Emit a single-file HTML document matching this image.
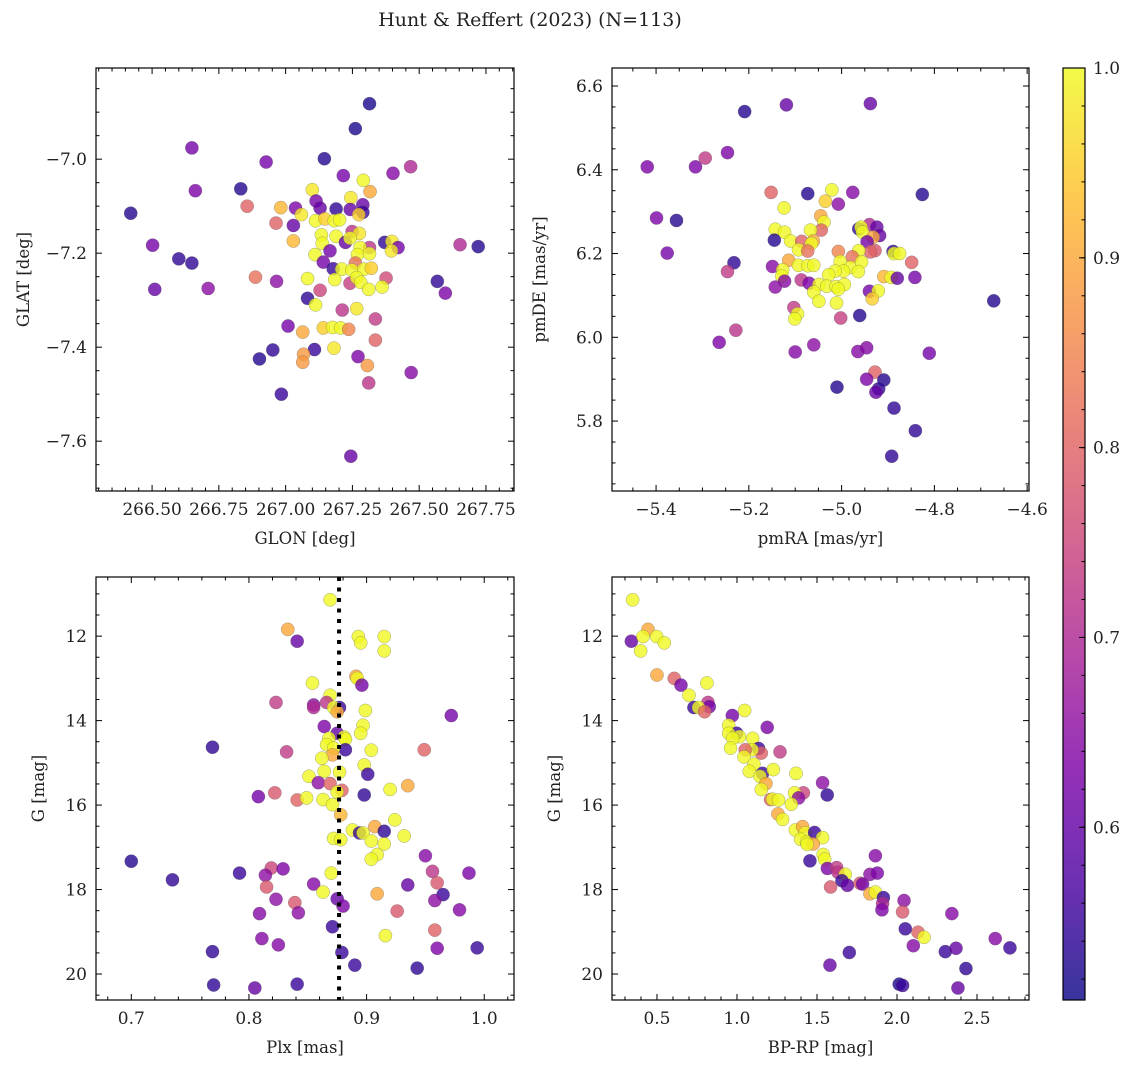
<!DOCTYPE html>
<html><head><meta charset="utf-8"><style>
body{margin:0;background:#fff;}
svg text{font-family:"DejaVu Serif","Liberation Serif",serif;fill:#222;}
</style></head><body>
<svg id="chart" width="1136" height="1068" viewBox="0 0 1136 1068" xmlns="http://www.w3.org/2000/svg">
<text x="530" y="26" font-size="19" text-anchor="middle">Hunt &amp; Reffert (2023) (N=113)</text>
</svg>
<script>
// ---- Panel 1: GLON vs GLAT ----
const tlX=[267.314,267.261,266.649,266.927,267.145,267.468,267.402,267.216,267.291,267.316,266.662,266.832,267.100,267.244,266.856,266.420,266.982,267.037,267.114,267.129,267.189,267.242,267.289,267.289,267.059,267.274,266.964,267.029,267.112,267.147,267.182,267.202,267.249,267.276,267.189,267.134,267.029,267.137,267.224,267.241,267.371,267.398,267.421,267.396,267.314,267.279,267.653,267.721,266.502,266.600,266.649,267.166,267.110,267.269,267.314,267.141,267.261,267.178,267.210,267.248,267.293,267.321,266.510,266.710,266.887,266.966,267.082,267.184,267.241,267.266,267.281,267.376,267.361,267.311,267.568,267.598,267.129,267.082,267.112,267.212,267.266,267.336,267.009,267.064,267.141,267.176,267.206,267.236,267.336,266.952,266.902,267.108,267.181,267.067,267.064,267.271,267.306,267.470,267.311,266.984,267.244];
const tlY=[-6.882,-6.935,-6.976,-7.006,-6.999,-7.016,-7.030,-7.035,-7.045,-7.069,-7.067,-7.063,-7.065,-7.082,-7.100,-7.115,-7.103,-7.104,-7.089,-7.104,-7.106,-7.107,-7.097,-7.113,-7.118,-7.118,-7.136,-7.141,-7.131,-7.127,-7.131,-7.129,-7.154,-7.158,-7.164,-7.161,-7.174,-7.179,-7.177,-7.168,-7.177,-7.175,-7.188,-7.195,-7.188,-7.188,-7.182,-7.186,-7.183,-7.212,-7.221,-7.195,-7.203,-7.203,-7.201,-7.219,-7.221,-7.233,-7.234,-7.236,-7.234,-7.232,-7.277,-7.275,-7.251,-7.260,-7.254,-7.256,-7.264,-7.252,-7.262,-7.253,-7.272,-7.277,-7.260,-7.285,-7.279,-7.296,-7.310,-7.321,-7.318,-7.340,-7.355,-7.368,-7.359,-7.358,-7.359,-7.362,-7.385,-7.406,-7.425,-7.405,-7.402,-7.415,-7.432,-7.420,-7.439,-7.454,-7.476,-7.500,-7.632];
const tlP=[.52,.52,.62,.62,.53,.7,.64,.62,1,.9,.63,.53,.98,.98,.8,.53,.92,.63,.62,.6,.54,.6,.6,.55,.98,.95,.8,.6,1,.95,1,1,.72,.98,1,1,.92,1,.6,1,.54,.98,.62,.98,.72,1,.7,.53,.62,.54,.54,.62,1,1,1,.62,.82,.55,1,1,1,.95,.6,.65,.82,.65,1,1,.74,1,1,.76,1,1,.54,.63,.75,.54,1,.72,.98,.73,.62,.9,.95,1,1,.85,.8,.54,.53,.55,.98,.88,.88,.63,.88,.64,.72,.55,.6];
// ---- Panel 2: pmRA vs pmDE ----
const trX=[-5.209,-5.119,-4.938,-5.419,-5.315,-5.294,-5.246,-5.152,-5.073,-5.021,-4.976,-4.826,-5.035,-5.007,-5.124,-5.399,-5.356,-5.045,-5.038,-5.044,-5.067,-5.143,-5.123,-5.145,-5.110,-5.086,-5.061,-5.065,-5.093,-5.073,-4.963,-4.940,-4.958,-4.955,-4.924,-4.918,-4.932,-4.945,-4.928,-4.938,-4.963,-5.007,-4.977,-5.376,-5.232,-5.246,-4.889,-4.887,-4.875,-4.849,-5.114,-5.093,-5.073,-5.060,-5.003,-4.981,-4.957,-4.964,-4.996,-5.014,-5.149,-5.127,-5.129,-5.123,-5.143,-5.087,-5.070,-5.028,-5.049,-5.032,-5.012,-4.994,-5.060,-5.007,-4.909,-4.893,-4.880,-4.842,-4.940,-4.921,-4.934,-5.049,-5.011,-4.672,-5.103,-5.095,-5.101,-5.002,-4.961,-5.228,-5.264,-5.100,-5.060,-4.965,-4.946,-4.811,-4.928,-4.946,-4.909,-4.920,-4.926,-5.010,-4.887,-4.841,-4.892];
const trY=[6.539,6.555,6.558,6.407,6.407,6.428,6.441,6.346,6.343,6.352,6.346,6.341,6.325,6.318,6.309,6.285,6.279,6.290,6.275,6.256,6.256,6.258,6.251,6.232,6.230,6.229,6.230,6.224,6.209,6.206,6.259,6.269,6.263,6.251,6.263,6.243,6.239,6.228,6.207,6.204,6.207,6.205,6.192,6.201,6.178,6.157,6.205,6.200,6.200,6.179,6.184,6.172,6.171,6.172,6.181,6.167,6.180,6.157,6.158,6.158,6.169,6.161,6.146,6.134,6.120,6.137,6.129,6.149,6.126,6.122,6.121,6.126,6.108,6.115,6.145,6.143,6.141,6.143,6.110,6.111,6.092,6.086,6.082,6.087,6.071,6.056,6.044,6.046,6.052,6.017,5.988,5.965,5.982,5.966,5.975,5.962,5.917,5.900,5.898,5.877,5.869,5.881,5.831,5.777,5.716];
const trP=[.53,.6,.6,.63,.63,.73,.63,.8,.53,1,.64,.53,.95,.65,1,.63,.53,.9,1,.8,1,1,1,.53,1,.8,.9,1,1,.82,.54,.7,1,1,.6,.6,.9,.62,.78,.8,1,.85,.82,.62,.54,.73,.54,1,1,.8,.9,1,1,1,1,1,1,1,1,1,.64,1,1,.64,.65,.72,.63,1,1,1,1,1,1,1,.92,1,.6,.62,.62,1,.95,1,1,.53,.73,1,1,.74,.53,.72,.63,.64,.65,.64,.64,.62,.8,.63,.53,.54,.6,.53,.54,.54,.54];
// ---- Panel 3: Plx vs G ----
const blX=[0.869,0.833,0.841,0.893,0.895,0.915,0.915,0.891,0.892,0.896,0.854,0.869,0.823,0.855,0.855,0.866,0.877,0.872,0.875,0.899,0.972,0.864,0.875,0.897,0.895,0.868,0.881,0.882,0.882,0.866,0.872,0.871,0.862,0.904,0.769,0.832,0.949,0.898,0.901,0.864,0.877,0.851,0.859,0.869,0.879,0.875,0.920,0.935,0.898,0.822,0.808,0.841,0.849,0.863,0.871,0.878,0.924,0.888,0.894,0.897,0.907,0.915,0.932,0.872,0.878,0.904,0.915,0.909,0.904,0.950,0.700,0.735,0.792,0.819,0.814,0.829,0.956,0.987,0.870,0.960,0.815,0.855,0.863,0.935,0.909,0.965,0.823,0.839,0.875,0.880,0.958,0.809,0.842,0.926,0.979,0.871,0.958,0.916,0.811,0.825,0.769,0.879,0.960,0.994,0.890,0.943,0.770,0.805,0.841];
const blY=[11.14,11.84,12.12,12.01,12.16,12.01,12.35,12.95,13.00,13.16,13.11,13.40,13.57,13.63,13.69,13.57,13.69,13.69,13.79,13.76,13.88,14.14,14.30,14.11,14.30,14.42,14.39,14.44,14.69,14.57,14.65,14.81,14.89,14.70,14.63,14.74,14.69,15.05,15.27,15.20,15.22,15.32,15.47,15.49,15.65,15.69,15.63,15.54,15.76,15.71,15.80,15.88,15.83,15.87,15.99,16.23,16.35,16.59,16.66,16.66,16.51,16.62,16.73,16.79,16.82,16.85,16.92,17.17,17.28,17.20,17.33,17.77,17.61,17.49,17.66,17.51,17.57,17.61,17.61,17.84,17.94,17.87,18.06,17.89,18.10,18.12,18.23,18.31,18.22,18.39,18.26,18.57,18.55,18.51,18.48,18.88,18.96,19.09,19.16,19.31,19.47,19.49,19.39,19.38,19.79,19.86,20.26,20.33,20.24];
const blP=[1,.9,.6,1,1,1,1,.9,1,.62,1,1,.73,.65,.7,.72,.55,1,.9,1,.62,.63,.6,1,1,1,1,1,.55,1,1,.9,1,1,.54,.73,.8,1,.55,1,1,1,.65,.8,.8,1,1,.9,.54,.78,.62,.8,1,1,1,.92,1,1,.55,1,.9,.54,1,1,1,1,1,1,1,.64,.53,.54,.55,.75,.65,.63,.72,.63,1,.78,.78,.64,1,.6,.9,.55,.65,.78,.6,.63,.65,.64,.65,.78,.64,.55,.8,1,.64,.64,.54,.55,.63,.55,.55,.54,.54,.6,.55];
const plxRef=[0.8766];
// ---- Panel 4: BP-RP vs G ----
const brX=[0.348,0.444,0.340,0.413,0.498,0.546,0.398,0.500,0.608,0.650,0.812,0.700,0.819,0.827,0.731,0.760,0.798,1.048,0.971,1.189,0.948,0.998,0.948,1.015,0.973,1.098,1.135,1.152,1.269,0.960,1.094,1.052,1.044,1.106,1.077,1.160,1.144,1.227,1.369,1.535,1.564,1.181,1.152,1.415,1.360,1.385,1.210,1.223,1.260,1.340,1.256,1.285,1.365,1.410,1.427,1.485,1.535,1.398,1.435,1.477,1.439,1.539,1.548,1.456,1.865,1.565,1.623,1.631,1.677,1.656,1.690,1.585,1.769,1.785,1.831,1.877,1.831,1.865,1.915,1.910,1.906,2.044,2.035,2.343,2.052,2.131,2.169,2.102,1.702,1.581,2.302,2.369,2.614,2.706,2.431,2.014,2.035,2.381];
const brY=[11.14,11.84,12.12,12.01,12.01,12.16,12.35,12.92,13.00,13.16,13.11,13.40,13.57,13.67,13.69,13.69,13.79,13.76,13.88,14.16,14.11,14.30,14.30,14.38,14.42,14.42,14.66,14.77,14.74,14.65,14.69,14.69,14.86,15.03,15.20,15.25,15.32,15.16,15.25,15.47,15.76,15.49,15.63,15.71,15.71,15.83,15.87,15.86,15.88,15.98,16.21,16.34,16.59,16.51,16.66,16.65,16.77,16.81,16.88,16.92,16.93,17.17,17.28,17.32,17.20,17.50,17.48,17.59,17.64,17.79,17.90,17.94,17.85,17.87,17.64,17.61,18.10,18.06,18.19,18.33,18.48,18.26,18.53,18.57,18.93,19.01,19.13,19.33,19.49,19.79,19.47,19.39,19.16,19.38,19.87,20.24,20.27,20.33];
const brP=[1,.9,.6,1,1,1,1,.9,.8,.62,1,1,.72,.62,.55,1,.8,1,.62,.63,1,.55,1,1,1,1,.55,.8,.73,1,1,.8,1,1,1,.55,1,1,1,.65,.54,.9,1,.75,1,.65,.8,1,1,1,.9,1,1,.9,1,.55,1,1,1,.9,1,1,1,.55,.64,.63,.73,.72,1,.55,.6,.78,.78,.62,.65,.63,.9,1,.55,.7,.63,.65,.78,.64,.55,.8,1,.64,.55,.6,.55,.6,.64,.55,.54,.52,.55,.6];
// ---- Colorbar ----
const cbRange=[0.509,1.0];
const cbTicks=[0.6,0.7,0.8,0.9,1.0];

const svg=document.getElementById('chart');
const NS='http://www.w3.org/2000/svg';
function mk(tag,attrs,parent){const e=document.createElementNS(NS,tag);for(const k in attrs)e.setAttribute(k,attrs[k]);(parent||svg).appendChild(e);return e;}
const plasmaStops=[[0,[13,8,135]],[0.125,[76,2,161]],[0.25,[126,3,168]],[0.375,[170,35,149]],[0.5,[204,71,120]],[0.625,[230,108,92]],[0.75,[248,149,64]],[0.875,[253,195,40]],[1,[240,249,33]]];
function plasma(t){t=Math.max(0,Math.min(1,t));for(let i=1;i<plasmaStops.length;i++){const [a,ca]=plasmaStops[i-1],[b,cb]=plasmaStops[i];if(t<=b){const f=(t-a)/(b-a);return 'rgb('+ca.map((v,j)=>Math.round(v+(cb[j]-v)*f)).join(',')+')';}}return 'rgb(240,249,33)';}
function pcol(p){return plasma((p-cbRange[0])/(cbRange[1]-cbRange[0]));}
function fmt(v,d){let s=v.toFixed(d);if(v<0)s='\u2212'+s.slice(1);return s;}
const TF=17;

function panel(name,box,xr,yr,xMaj,xMin,yMaj,yMin,xd,yd,xlab,ylab,X,Y,P,vline){
  const [L,T,R,B]=box;
  const sx=v=>L+(v-xr[0])/(xr[1]-xr[0])*(R-L);
  const sy=v=>T+(v-yr[0])/(yr[1]-yr[0])*(B-T);
  const g=mk('g',{});
  
  
  const clipId='clip-'+name;
  const cp=mk('clipPath',{id:clipId},g);mk('rect',{x:L,y:T,width:R-L,height:B-T},cp);
  const pts=mk('g',{'clip-path':'url(#'+clipId+')'},g);
  for(let i=0;i<X.length;i++){
    const c=mk('circle',{cx:sx(X[i]),cy:sy(Y[i]),r:6.6,fill:pcol(P[i]),'fill-opacity':0.8,stroke:'#555','stroke-opacity':0.5,'stroke-width':0.5},pts);
    
    
  }
  if(vline){const l=mk('line',{x1:sx(vline[0]),x2:sx(vline[0]),y1:T,y2:B,stroke:'#000','stroke-width':4,'stroke-dasharray':'4,6.5'},pts);
    
    }
  mk('rect',{x:L,y:T,width:R-L,height:B-T,fill:'none',stroke:'#000','stroke-width':1.2},g);
  const lo=Math.min(xr[0],xr[1]),hi=Math.max(xr[0],xr[1]);
  for(let k=Math.ceil(lo/xMin-1e-6);k*xMin<=hi+1e-9;k++){const v=k*xMin;const maj=Math.abs(v/xMaj-Math.round(v/xMaj))<1e-6;const len=maj?6:3.5;const x=sx(v);
    mk('line',{x1:x,x2:x,y1:B,y2:B-len,stroke:'#000','stroke-width':1},g);mk('line',{x1:x,x2:x,y1:T,y2:T+len,stroke:'#000','stroke-width':1},g);
    if(maj){const t=mk('text',{x:x,y:B+24,'font-size':TF,'text-anchor':'middle'},g);t.textContent=fmt(v,xd);
      }}
  const ylo=Math.min(yr[0],yr[1]),yhi=Math.max(yr[0],yr[1]);
  for(let k=Math.ceil(ylo/yMin-1e-6);k*yMin<=yhi+1e-9;k++){const v=k*yMin;const maj=Math.abs(v/yMaj-Math.round(v/yMaj))<1e-6;const len=maj?6:3.5;const y=sy(v);
    mk('line',{x1:L,x2:L+len,y1:y,y2:y,stroke:'#000','stroke-width':1},g);mk('line',{x1:R,x2:R-len,y1:y,y2:y,stroke:'#000','stroke-width':1},g);
    if(maj){const t=mk('text',{x:L-9,y:y+6,'font-size':TF,'text-anchor':'end'},g);t.textContent=fmt(v,yd);
      }}
  const xl=mk('text',{x:(L+R)/2,y:B+53,'font-size':16.5,'text-anchor':'middle'},g);xl.textContent=xlab;
  
  const yx=L-(yd===0?52:67),yy=(T+B)/2;
  const yl=mk('text',{x:yx,y:yy,'font-size':16.5,'text-anchor':'middle',transform:'rotate(-90 '+yx+' '+yy+')'},g);yl.textContent=ylab;
  
}
panel('glon-glat',[96,68,514,491],[266.29,267.855],[-6.806,-7.706],0.25,0.05,0.2,0.05,2,1,'GLON [deg]','GLAT [deg]',tlX,tlY,tlP,null);
panel('pm',[612,68,1029,491],[-5.495,-4.596],[6.643,5.633],0.2,0.05,0.2,0.05,1,1,'pmRA [mas/yr]','pmDE [mas/yr]',trX,trY,trP,null);
panel('plx-g',[96,577,514,1000],[0.670,1.0253],[10.60,20.615],0.1,0.02,2,0.5,1,0,'Plx [mas]','G [mag]',blX,blY,blP,plxRef);
panel('cmd',[612,577,1029,1000],[0.219,2.825],[10.60,20.615],0.5,0.1,2,0.5,1,0,'BP-RP [mag]','G [mag]',brX,brY,brP,null);

// colorbar
(function(){
  const L=1063,R=1085,T=68,B=1000;
  const defs=mk('defs',{});const lg=mk('linearGradient',{id:'cbgrad',x1:0,y1:1,x2:0,y2:0},defs);
  for(let i=0;i<=16;i++){mk('stop',{offset:i/16,'stop-color':plasma(i/16)},lg);}
  const cb=mk('rect',{x:L,y:T,width:R-L,height:B-T,fill:'url(#cbgrad)','fill-opacity':0.82,stroke:'#000','stroke-width':1.2});
  
  const sy=v=>B-(v-cbRange[0])/(cbRange[1]-cbRange[0])*(B-T);
  for(let v=0.52;v<=1.0001;v+=0.02){const y=sy(v);mk('line',{x1:R,x2:R-3.5,y1:y,y2:y,stroke:'#000','stroke-width':1});}
  cbTicks.forEach(v=>{const y=sy(v);mk('line',{x1:R,x2:R-6,y1:y,y2:y,stroke:'#000','stroke-width':1});
    const t=mk('text',{x:R+8,y:y+6,'font-size':TF});t.textContent=v.toFixed(1);
    });
})();
</script>
</body></html>
